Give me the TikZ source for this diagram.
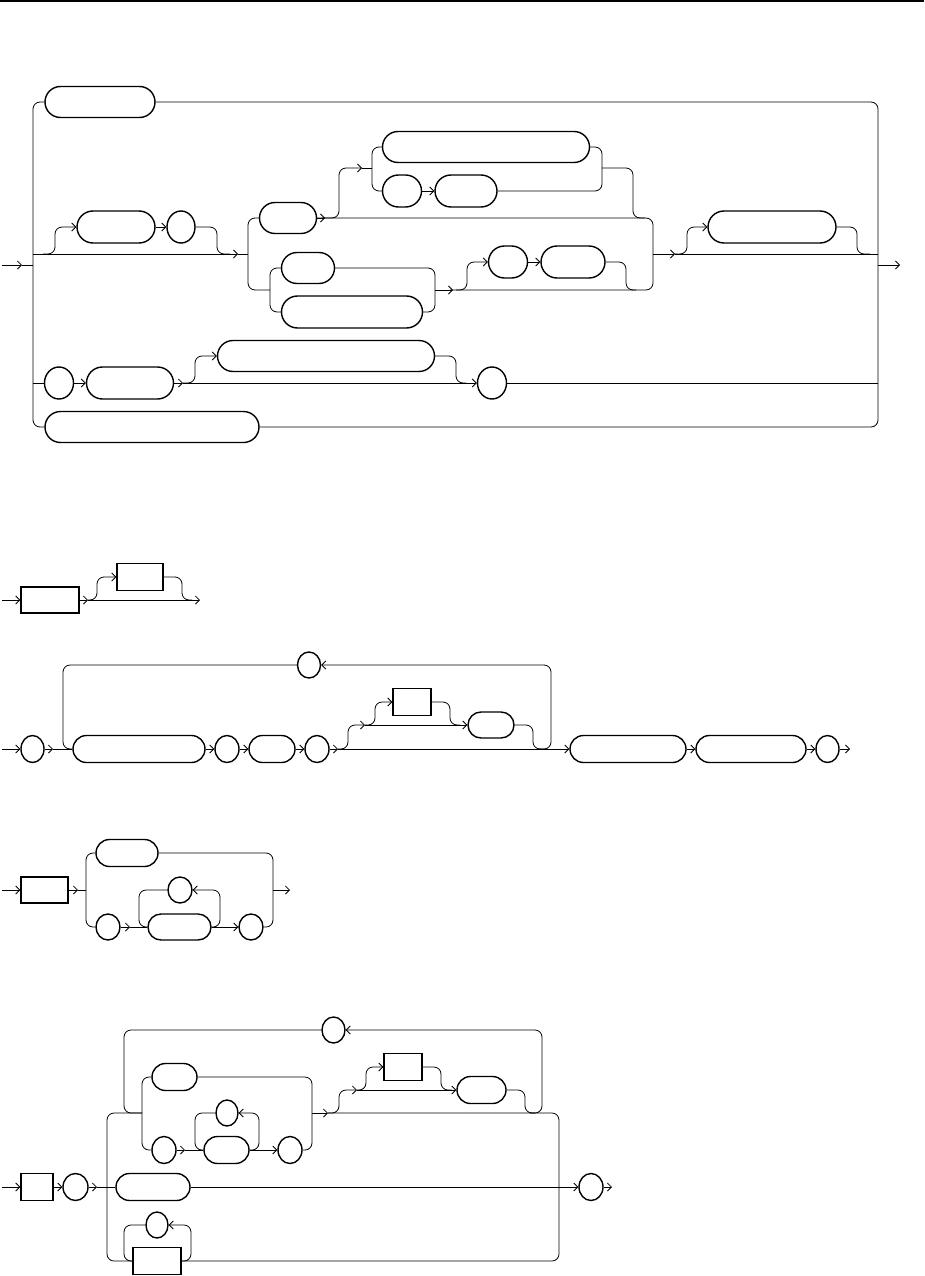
\documentclass[tikz,border=0pt]{standalone}
\usetikzlibrary{arrows.meta,shapes.misc,shapes.geometric}
\begin{document}
\begin{tikzpicture}[x=1pt,y=-1pt,
  conn/.style={line width=0.8pt, rounded corners=7pt},
  arr/.style={conn, -{Straight Barb[length=4pt,width=8pt]}},
  pill/.style={draw, line width=1.4pt, rounded rectangle, inner sep=0pt},
  oval/.style={draw, line width=1.4pt, ellipse, inner sep=0pt},
  box/.style={draw, line width=1.4pt, rectangle, inner sep=0pt},
  nw/.style={minimum width=#1pt},
  nh/.style={minimum height=#1pt}]
\useasboundingbox (0,0) rectangle (924,1276);
\coordinate (rl) at (0,1); \coordinate (rr) at (924,1);
\draw[line width=1.5pt] (rl) -- (rr);

% ---------------- Diagram 1 ----------------
\node[pill,nw=110,nh=31] (d1a) at (100,102) {};
\node[pill,nw=78,nh=32] (d1b) at (116,227) {};
\node[oval,nw=28,nh=32] (d1c) at (181,227) {};
\node[pill,nw=57,nh=31] (d1d) at (288,218) {};
\node[pill,nw=207,nh=31] (d1e) at (486,147) {};
\node[pill,nw=39,nh=32] (d1f) at (402,191) {};
\node[pill,nw=62,nh=32] (d1g) at (466,191) {};
\node[pill,nw=53,nh=31] (d1h) at (308,268) {};
\node[pill,nw=141,nh=32] (d1i) at (352,312) {};
\node[pill,nw=39,nh=32] (d1j) at (508,262) {};
\node[pill,nw=64,nh=32] (d1k) at (573,262) {};
\node[pill,nw=128,nh=32] (d1l) at (772,227) {};
\node[oval,nw=29,nh=32] (d1m) at (59,383) {};
\node[pill,nw=87,nh=32] (d1n) at (130,383) {};
\node[pill,nw=217,nh=31] (d1o) at (326,356) {};
\node[oval,nw=29,nh=32] (d1p) at (492,383) {};
\node[pill,nw=214,nh=31] (d1q) at (152,427) {};
\coordinate (d1in) at (2,265);
\coordinate (d1out) at (900,265);

\draw[arr] (d1in) -- (22,265);
\draw[conn] (22,265) -- (33,265);
\draw[conn] (d1a.west) -- (33,102) -- (33,427) -- (d1q.west);
\draw[conn] (d1a.east) -- (878,102) -- (878,427) -- (d1q.east);
\draw[arr] (878,265) -- (d1out);
% row 2
\draw[arr] (33,254) -- (238,254);
\draw[conn] (238,254) -- (248,254);
\draw[arr] (43,254) -- (55,254) -- (55,227) -- (d1b.west);
\draw[arr] (d1b.east) -- (d1c.west);
\draw[conn] (d1c.east) -- (217,227) -- (217,254) -- (230,254);
\draw[conn] (d1d.west) -- (248,218) -- (248,290) -- (270,290);
\draw[conn] (d1h.west) -- (270,268) -- (270,312) -- (d1i.west);
\draw[conn] (d1h.east) -- (435,268) -- (435,312) -- (d1i.east);
\draw[arr] (435,290) -- (453,290);
\draw[conn] (d1d.east) -- (653,218) -- (653,290) -- (450,290);
\draw[arr] (d1d.east) -- (325,218);
\draw[arr] (322,218) -- (339,218) -- (339,168) -- (362,168);
\draw[conn] (362,168) -- (372,168);
\draw[conn] (d1e.west) -- (372,147) -- (372,191) -- (d1f.west);
\draw[arr] (d1f.east) -- (d1g.west);
\draw[conn] (d1e.east) -- (602,147) -- (602,191) -- (d1g.east);
\draw[conn] (602,168) -- (633,168) -- (633,218) -- (645,218);
\draw[arr] (456,290) -- (467,290) -- (467,262) -- (d1j.west);
\draw[arr] (d1j.east) -- (d1k.west);
\draw[conn] (d1k.east) -- (626,262) -- (626,290) -- (636,290);
\draw[arr] (653,254) -- (675,254);
\draw[conn] (675,254) -- (878,254);
\draw[arr] (675,254) -- (687,254) -- (687,227) -- (d1l.west);
\draw[conn] (d1l.east) -- (857,227) -- (857,254) -- (870,254);
% row 3
\draw[conn] (33,383) -- (d1m.west);
\draw[arr] (d1m.east) -- (d1n.west);
\draw[arr] (d1n.east) -- (183,383);
\draw[arr] (183,383) -- (d1p.west);
\draw[arr] (183,383) -- (195,383) -- (195,356) -- (d1o.west);
\draw[conn] (d1o.east) -- (456,356) -- (456,383) -- (466,383);
\draw[conn] (d1p.east) -- (878,383);

% ---------------- Diagram 2 ----------------
\node[box,nw=58,nh=26] (e1) at (50,600) {};
\node[box,nw=46,nh=27] (e2) at (140,577) {};
\coordinate (e0) at (2,600);
\coordinate (eout) at (200,600);
\draw[arr] (e0) -- (e1.west);
\draw[arr] (e1.east) -- (88,600);
\draw[arr] (88,600) -- (eout);
\draw[arr] (88,600) -- (97,600) -- (97,577) -- (e2.west);
\draw[conn] (e2.east) -- (182,577) -- (182,600) -- (192,600);

% ---------------- Diagram 3 ----------------
\node[oval,nw=23,nh=27] (f1) at (32.5,749) {};
\node[pill,nw=132,nh=27] (f2) at (139,749) {};
\node[oval,nw=24,nh=27] (f3) at (227,749) {};
\node[pill,nw=46,nh=27] (f4) at (272,749) {};
\node[oval,nw=24,nh=27] (f5) at (317,749) {};
\node[box,nw=38,nh=27] (f6) at (412,702) {};
\node[pill,nw=46,nh=26] (f7) at (491,725) {};
\node[oval,nw=23,nh=26] (f8) at (309,665) {};
\node[pill,nw=116,nh=27] (f9) at (628,749) {};
\node[pill,nw=110,nh=27] (f10) at (751,749) {};
\node[oval,nw=23,nh=27] (f11) at (827.5,749) {};
\coordinate (f0) at (2,749);
\coordinate (fout) at (850,749);
\draw[arr] (f0) -- (f1.west);
\draw[arr] (f1.east) -- (53,749);
\draw[conn] (53,749) -- (f2.west);
\draw[conn] (f8.west) -- (63,665) -- (63,749) -- (f2.west);
\draw[arr] (f2.east) -- (f3.west);
\draw[arr] (f3.east) -- (f4.west);
\draw[arr] (f4.east) -- (f5.west);
\draw[arr] (f5.east) -- (338,749);
\draw[arr] (338,749) -- (f9.west);
\draw[arr] (538,749) -- (551,749) -- (551,665) -- (f8.east);
\draw[arr] (338,749) -- (348,749) -- (348,725) -- (365,725);
\draw[arr] (365,725) -- (f7.west);
\draw[arr] (365,725) -- (375,725) -- (375,702) -- (f6.west);
\draw[conn] (f6.east) -- (450,702) -- (450,725) -- (460,725);
\draw[conn] (f7.east) -- (533,725) -- (533,749) -- (545,749);
\draw[arr] (f9.east) -- (f10.west);
\draw[arr] (f10.east) -- (f11.west);
\draw[arr] (f11.east) -- (fout);

% ---------------- Diagram 4 ----------------
\node[box,nw=47,nh=26] (g1) at (44.5,890) {};
\node[pill,nw=62,nh=27] (g2) at (127,853) {};
\node[oval,nw=24,nh=26] (g3) at (108,927) {};
\node[oval,nw=24,nh=26] (g4) at (180,890) {};
\node[pill,nw=63,nh=26] (g5) at (179.5,927) {};
\node[oval,nw=24,nh=26] (g6) at (251,927) {};
\coordinate (g0) at (2,890);
\coordinate (gout) at (290,890);
\draw[arr] (g0) -- (g1.west);
\draw[arr] (g1.east) -- (78,890);
\draw[conn] (78,890) -- (86,890);
\draw[conn] (g2.west) -- (86,853) -- (86,927) -- (g3.west);
\draw[conn] (g2.east) -- (273,853) -- (273,927) -- (g6.east);
\draw[arr] (273,890) -- (gout);
\draw[arr] (g3.east) -- (130,927);
\draw[conn] (130,927) -- (g5.west);
\draw[conn] (g4.west) -- (139,890) -- (139,927) -- (g5.west);
\draw[arr] (g5.east) -- (220,927) -- (220,890) -- (g4.east);
\draw[arr] (g5.east) -- (g6.west);

% ---------------- Diagram 5 ----------------
\node[box,nw=32,nh=27] (h1) at (37,1187) {};
\node[oval,nw=25,nh=27] (h2) at (75.5,1187) {};
\node[pill,nw=74,nh=27] (h3) at (153,1187) {};
\node[box,nw=48,nh=27] (h4) at (157,1261) {};
\node[oval,nw=22,nh=26] (h5) at (157,1225) {};
\node[oval,nw=23,nh=26] (h6) at (333.5,1030) {};
\node[pill,nw=45,nh=27] (h7) at (174.5,1077) {};
\node[oval,nw=24,nh=27] (h8) at (164,1150) {};
\node[oval,nw=22,nh=26] (h9) at (227,1113) {};
\node[pill,nw=45,nh=27] (h10) at (226.5,1150) {};
\node[oval,nw=24,nh=27] (h11) at (290,1150) {};
\node[box,nw=38,nh=27] (h12) at (403,1067) {};
\node[pill,nw=49,nh=27] (h13) at (481.5,1090) {};
\node[oval,nw=24,nh=27] (h14) at (591,1187) {};
\coordinate (h0) at (2,1187);
\coordinate (hout) at (612,1187);
\draw[arr] (h0) -- (h1.west);
\draw[arr] (h1.east) -- (h2.west);
\draw[arr] (h2.east) -- (97,1187);
\draw[conn] (97,1187) -- (107,1187);
\draw[conn] (142,1113) -- (107,1113) -- (107,1261) -- (h4.west);
\draw[conn] (107,1187) -- (h3.west);
\draw[arr] (h3.east) -- (h14.west);
\draw[arr] (h14.east) -- (hout);
\draw[conn] (h4.east) -- (559,1261) -- (559,1113) -- (328,1113);
% row C loop
\draw[conn] (h5.west) -- (124,1225) -- (124,1261) -- (h4.west);
\draw[arr] (h4.east) -- (191,1261) -- (191,1225) -- (h5.east);
% upper loop
\draw[conn] (h6.west) -- (124,1030) -- (124,1113) -- (142,1113);
\draw[arr] (530,1113) -- (542,1113) -- (542,1030) -- (h6.east);
\draw[conn] (h7.west) -- (142,1077) -- (142,1150) -- (h8.west);
\draw[conn] (h7.east) -- (312,1077) -- (312,1150) -- (h11.east);
\draw[arr] (312,1113) -- (328,1113);
\draw[arr] (h8.east) -- (185,1150);
\draw[conn] (185,1150) -- (h10.west);
\draw[conn] (h9.west) -- (195,1113) -- (195,1150) -- (h10.west);
\draw[arr] (h10.east) -- (259,1150) -- (259,1113) -- (h9.east);
\draw[arr] (h10.east) -- (h11.west);
\draw[arr] (328,1113) -- (339,1113) -- (339,1090) -- (357,1090);
\draw[arr] (357,1090) -- (h13.west);
\draw[arr] (357,1090) -- (366,1090) -- (366,1067) -- (h12.west);
\draw[conn] (h12.east) -- (441,1067) -- (441,1090) -- (452,1090);
\draw[conn] (h13.east) -- (525,1090) -- (525,1113) -- (535,1113);
\end{tikzpicture}
\end{document}
